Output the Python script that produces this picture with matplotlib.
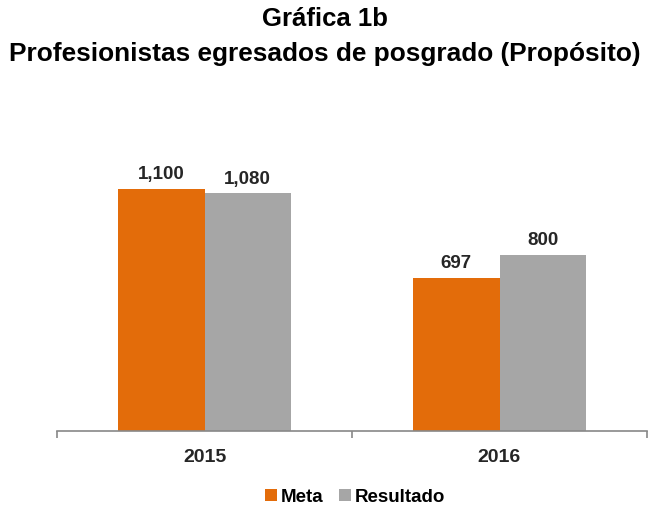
import numpy as np
import matplotlib.pyplot as plt

years = ['2015', '2016']
meta = [1100, 697]
resultado = [1080, 800]
meta_labels = ['1,100', '697']
res_labels = ['1,080', '800']

orange = '#E36C0A'
gray = '#A6A6A6'

plt.rcParams['font.family'] = ['Liberation Sans', 'DejaVu Sans']

fig = plt.figure(figsize=(6.49, 5.08), dpi=100)
W, H = 649, 508
ax = fig.add_axes([57 / W, 1 - 431 / H, (647 - 57) / W, (431 - 123) / H])

x = np.arange(len(years))
w = 0.292
b1 = ax.bar(x - w / 2, meta, w, color=orange, label='Meta')
b2 = ax.bar(x + w / 2, resultado, w, color=gray, label='Resultado')

for bars, labs in [(b1, meta_labels), (b2, res_labels)]:
    for bar, lab in zip(bars, labs):
        ax.annotate(lab, (bar.get_x() + bar.get_width() / 2, bar.get_height()),
                    xytext=(0, 4), textcoords='offset points', ha='center', va='bottom',
                    fontsize=13.5, fontweight='bold', color='#262626')

ax.set_xlim(-0.5, 1.5)
ax.set_ylim(0, 1400)
ax.set_yticks([])
for s in ['top', 'right', 'left']:
    ax.spines[s].set_visible(False)
ax.spines['bottom'].set_color('#888888')
ax.spines['bottom'].set_linewidth(1.2)

ax.set_xticks(x)
ax.set_xticklabels(years, fontsize=14, fontweight='bold', color='#262626')
ax.tick_params(axis='x', which='major', length=0, pad=13)
ax.set_xticks([-0.5, 0.5, 1.5], minor=True)
ax.tick_params(axis='x', which='minor', length=5, color='#888888', width=1.2)

fig.text(0.5, 1 - 19 / H, 'Gráfica 1b', ha='center', va='center',
         fontsize=18.5, fontweight='bold')
fig.text(0.5, 1 - 54 / H, 'Profesionistas egresados de posgrado (Propósito)', ha='center',
         va='center', fontsize=18.9, fontweight='bold')

fig.legend(handles=[b1, b2], loc='center', bbox_to_anchor=(355 / W, 1 - 497 / H), ncol=2,
           frameon=False, handlelength=0.65, handleheight=0.65, handletextpad=0.2,
           columnspacing=0.8, prop={'size': 13.5, 'weight': 'bold'})

fig.savefig('out.png', dpi=100)
